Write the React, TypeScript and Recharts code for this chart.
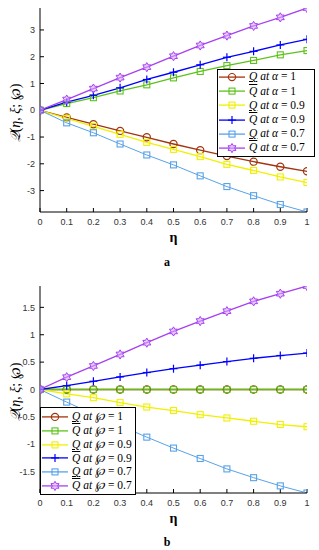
import React from 'react';
import { LineChart, Line, XAxis, YAxis, Legend } from 'recharts';

// ---------- data ----------
const etaValues = [0, 0.1, 0.2, 0.3, 0.4, 0.5, 0.6, 0.7, 0.8, 0.9, 1];
const xTicks = [0, 0.1, 0.2, 0.3, 0.4, 0.5, 0.6, 0.7, 0.8, 0.9, 1];

// chart a (alpha)
const lowerAlpha1 = [0, -0.27, -0.52, -0.77, -1.01, -1.26, -1.49, -1.71, -1.92, -2.11, -2.28];
const upperAlpha1 = [0, 0.25, 0.47, 0.72, 0.95, 1.21, 1.45, 1.67, 1.86, 2.07, 2.23];
const lowerAlpha09 = [0, -0.3, -0.6, -0.9, -1.2, -1.46, -1.73, -2.02, -2.25, -2.49, -2.7];
const upperAlpha09 = [0, 0.3, 0.56, 0.84, 1.15, 1.42, 1.7, 1.98, 2.2, 2.44, 2.65];
const lowerAlpha07 = [0, -0.47, -0.84, -1.26, -1.67, -2.04, -2.45, -2.85, -3.19, -3.52, -3.8];
const upperAlpha07 = [0, 0.4, 0.81, 1.22, 1.61, 2.02, 2.42, 2.79, 3.15, 3.47, 3.82];
const yTicksA = [-3, -2, -1, 0, 1, 2, 3];

// chart b (wp)
const lowerWp1 = [0, 0, 0, 0, 0, 0, 0, 0, 0, 0, 0];
const upperWp1 = [0, 0, 0, 0, 0, 0, 0, 0, 0, 0, 0];
const lowerWp09 = [0, -0.08, -0.15, -0.24, -0.32, -0.385, -0.46, -0.52, -0.58, -0.64, -0.68];
const upperWp09 = [0, 0.07, 0.15, 0.23, 0.31, 0.38, 0.445, 0.51, 0.57, 0.62, 0.665];
const lowerWp07 = [0, -0.23, -0.45, -0.66, -0.87, -1.07, -1.26, -1.45, -1.61, -1.76, -1.89];
const upperWp07 = [0, 0.225, 0.43, 0.64, 0.855, 1.06, 1.25, 1.43, 1.61, 1.75, 1.89];
const yTicksB = [-1.5, -1, -0.5, 0, 0.5, 1, 1.5];

const paramValues = ['1', '1', '0.9', '0.9', '0.7', '0.7'];
const boundKinds = ['lower', 'upper', 'lower', 'upper', 'lower', 'upper'];
const seriesKeys = ['s0', 's1', 's2', 's3', 's4', 's5'];
const seriesColors = ['#a2340e', '#5cc21a', '#f0f000', '#0000ff', '#58a2e8', '#a640f0'];
const seriesMarkers = ['circle', 'square', 'square', 'plus', 'square', 'star'];

const seriesA = [lowerAlpha1, upperAlpha1, lowerAlpha09, upperAlpha09, lowerAlpha07, upperAlpha07];
const seriesB = [lowerWp1, upperWp1, lowerWp09, upperWp09, lowerWp07, upperWp07];

const buildRows = (series: number[][]) =>
  etaValues.map((eta, i) => {
    const row: any = { eta };
    series.forEach((s, k) => (row[seriesKeys[k]] = s[i]));
    return row;
  });

const dataA = buildRows(seriesA);
const dataB = buildRows(seriesB);

const domainOf = (series: number[][]) => {
  const all = series.flat();
  return [Math.min(...all), Math.max(...all)];
};

// ---------- markers ----------
const Marker = ({ type, cx, cy, color }: any) => {
  if (cx == null || cy == null) return null;
  if (type === 'circle')
    return <circle cx={cx} cy={cy} r={3.6} fill="none" stroke={color} strokeWidth={1.2} />;
  if (type === 'square')
    return <rect x={cx - 3} y={cy - 3} width={6} height={6} fill="none" stroke={color} strokeWidth={1.1} />;
  if (type === 'plus')
    return (
      <g stroke={color} strokeWidth={1.2}>
        <line x1={cx - 4} x2={cx + 4} y1={cy} y2={cy} />
        <line x1={cx} x2={cx} y1={cy - 4} y2={cy + 4} />
      </g>
    );
  // hexagram
  const r = 4.6;
  const pts: string[] = [];
  for (let i = 0; i < 12; i++) {
    const ang = (-90 + i * 30) * (Math.PI / 180);
    const rr = i % 2 === 0 ? r : r * 0.58;
    pts.push(`${cx + rr * Math.cos(ang)},${cy + rr * Math.sin(ang)}`);
  }
  return <polygon points={pts.join(' ')} fill="#d9a8ff" fillOpacity={0.6} stroke={color} strokeWidth={1} />;
};

const makeDot = (k: number) => (props: any) => (
  <Marker key={`${k}-${props.index}`} type={seriesMarkers[k]} cx={props.cx} cy={props.cy} color={seriesColors[k]} />
);

// ---------- legend ----------
const LegendBox = ({ symbol, rowH, padTop }: any) => (
  <div
    style={{
      border: '1px solid #000',
      background: '#fff',
      boxSizing: 'border-box',
      paddingTop: padTop,
      paddingBottom: 1,
    }}
  >
    {seriesKeys.map((key, k) => (
      <div key={key} style={{ display: 'flex', alignItems: 'center', height: rowH }}>
        <svg width={29} height={rowH} style={{ flex: 'none' }}>
          <line x1={1} x2={27} y1={rowH / 2} y2={rowH / 2} stroke={seriesColors[k]} strokeWidth={1.3} />
          <Marker type={seriesMarkers[k]} cx={14} cy={rowH / 2} color={seriesColors[k]} />
        </svg>
        <span
          style={{
            fontFamily: '"Liberation Serif", "DejaVu Serif", serif',
            fontSize: 11.5,
            color: '#000',
            whiteSpace: 'nowrap',
            lineHeight: 1,
            marginLeft: 2,
          }}
        >
          <span
            style={{
              fontStyle: 'italic',
              textDecoration: boundKinds[k] === 'lower' ? 'underline' : 'overline',
            }}
          >
            Q
          </span>
          <span style={{ fontStyle: 'italic' }}> at {symbol}</span>
          <span> = {paramValues[k]}</span>
        </span>
      </div>
    ))}
  </div>
);

// ---------- labels ----------
const YLabel = ({ centerY }: any) => {
  const x = 15;
  const y = centerY;
  return (
    <text
      x={x}
      y={y}
      transform={`rotate(-90 ${x} ${y})`}
      textAnchor="middle"
      dominantBaseline="central"
      fontFamily='"Liberation Serif", "DejaVu Serif", serif'
      fontSize={14}
      fill="#000"
    >
      <tspan fontStyle="italic">𝒬</tspan>
      <tspan>(</tspan>
      <tspan fontStyle="italic">η</tspan>
      <tspan>, </tspan>
      <tspan fontStyle="italic">ξ</tspan>
      <tspan>; ℘)</tspan>
    </text>
  );
};

const XLabel = ({ viewBox }: any) => {
  if (!viewBox) return null;
  return (
    <text
      x={viewBox.x + viewBox.width / 2}
      y={viewBox.y + 30}
      textAnchor="middle"
      fontFamily='"Liberation Serif", "DejaVu Serif", serif'
      fontWeight="bold"
      fontSize={14}
      fill="#000"
    >
      η
    </text>
  );
};

const tickStyle = { fontSize: 9, fill: '#333', fontFamily: '"Liberation Sans", Arial, sans-serif' };
const fmt = (v: number) => String(v);
const blank = () => '';

const Panel = ({ data, series, yTicks, height, symbol, legendPos, rowH, padTop, labelY }: any) => {
  const domain = domainOf(series);
  return (
    <LineChart width={319} height={height} data={data} margin={{ top: 8, right: 12, bottom: 3, left: 0 }}>
      <XAxis
        dataKey="eta"
        type="number"
        domain={[0, 1]}
        ticks={xTicks}
        tickFormatter={fmt}
        height={30}
        tickSize={-4}
        tickMargin={11}
        stroke="#000"
        tick={tickStyle}
        allowDataOverflow
        label={<XLabel />}
      />
      <XAxis
        xAxisId="top"
        orientation="top"
        dataKey="eta"
        type="number"
        domain={[0, 1]}
        ticks={xTicks}
        tickFormatter={blank}
        height={0}
        tickSize={-4}
        stroke="#000"
      />
      <YAxis
        type="number"
        domain={domain}
        ticks={yTicks}
        tickFormatter={fmt}
        width={40}
        tickSize={-4}
        tickMargin={9}
        stroke="#000"
        tick={tickStyle}
        allowDataOverflow
        label={<YLabel centerY={labelY} />}
      />
      <YAxis
        yAxisId="right"
        orientation="right"
        type="number"
        domain={domain}
        ticks={yTicks}
        tickFormatter={blank}
        width={0}
        tickSize={-4}
        stroke="#000"
      />
      {seriesKeys.map((key, k) => (
        <Line
          key={key}
          dataKey={key}
          stroke={seriesColors[k]}
          strokeWidth={k === 4 ? 1 : 1.3}
          dot={makeDot(k)}
          activeDot={false}
          isAnimationActive={false}
        />
      ))}
      <Legend
        layout="vertical"
        align="center"
        verticalAlign="middle"
        wrapperStyle={{ left: legendPos.left, top: legendPos.top, width: legendPos.width, height: 'auto' }}
        content={() => <LegendBox symbol={symbol} rowH={rowH} padTop={padTop} />}
      />
    </LineChart>
  );
};

export default function App() {
  return (
    <div style={{ position: 'absolute', left: 0, top: 0, width: 319, height: 550, background: '#fff' }}>
      <div style={{ position: 'absolute', left: 0, top: 0 }}>
        <Panel
          data={dataA}
          series={seriesA}
          yTicks={yTicksA}
          height={245}
          symbol="α"
          legendPos={{ left: 217, top: 69, width: 98 }}
          rowH={14.2}
          padTop={0}
          labelY={113}
        />
      </div>
      <div
        style={{
          position: 'absolute',
          left: 157,
          top: 255,
          width: 20,
          textAlign: 'center',
          fontFamily: '"Liberation Serif", serif',
          fontWeight: 'bold',
          fontSize: 12,
        }}
      >
        a
      </div>
      <div style={{ position: 'absolute', left: 0, top: 278 }}>
        <Panel
          data={dataB}
          series={seriesB}
          yTicks={yTicksB}
          height={248}
          symbol="℘"
          legendPos={{ left: 40, top: 129, width: 96 }}
          rowH={13.8}
          padTop={2}
          labelY={114}
        />
      </div>
      <div
        style={{
          position: 'absolute',
          left: 157,
          top: 535,
          width: 20,
          textAlign: 'center',
          fontFamily: '"Liberation Serif", serif',
          fontWeight: 'bold',
          fontSize: 12,
        }}
      >
        b
      </div>
    </div>
  );
}
